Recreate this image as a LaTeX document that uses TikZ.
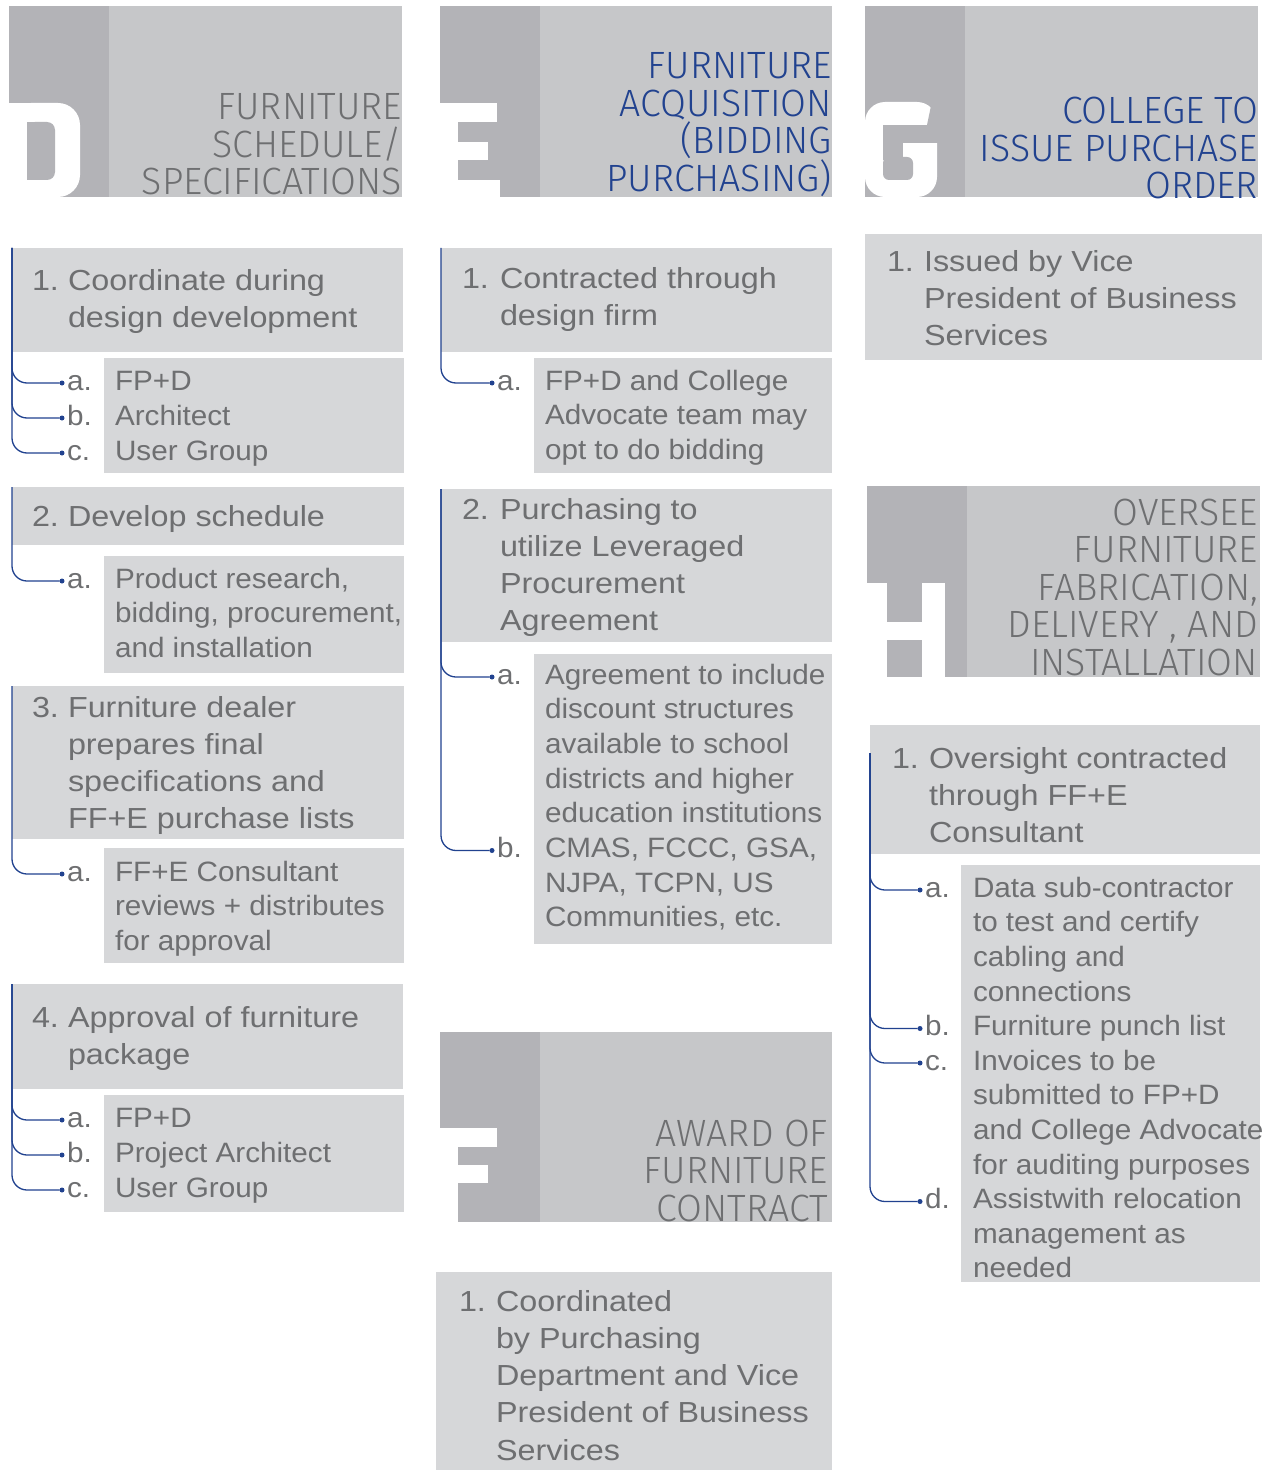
\documentclass[tikz,border=0pt]{standalone}
\usepackage{fontspec}
\setmainfont{Liberation Sans}
\newfontfamily\hdrfont{Fira Sans Light}[FakeStretch=0.985]
\newfontfamily\bodyfont{Liberation Sans}[FakeStretch=1.115]
\newfontfamily\itemfont{Liberation Sans}[FakeStretch=1.06]
\newcommand\mainsz{\bodyfont\fontsize{29}{37.3}\selectfont}
\newcommand\itemsz{\itemfont\fontsize{28}{34.7}\selectfont}
\newcommand\hdrsz{\hdrfont\fontsize{38}{37.5}\selectfont}
\newcommand\firststrut{\rule{0pt}{24pt}}
\newcommand\hdrstrut{\rule{0pt}{32pt}}

\definecolor{hdrlight}{HTML}{C6C7C9}
\definecolor{hdrdark}{HTML}{B3B3B7}
\definecolor{boxgrey}{HTML}{D6D7D9}
\definecolor{inkgrey}{HTML}{6E6F71}
\definecolor{navy}{HTML}{21428F}

\tikzset{
  hdrbox/.style={fill=hdrlight, draw=none, inner sep=0, outer sep=0, anchor=north west},
  card/.style={fill=boxgrey, draw=none, inner sep=0, outer sep=0, anchor=north west},
  numtxt/.style={anchor=north west, inner sep=0, outer sep=0, text=inkgrey, font=\mainsz, align=left},
  itemtxt/.style={anchor=north west, inner sep=0, outer sep=0, text=inkgrey, font=\itemsz, align=left},
  title/.style={anchor=north east, inner sep=0, outer sep=0, font=\hdrsz, align=right},
  link/.style={draw=navy, line width=1.3pt, rounded corners=15pt},
  knot/.style={circle, fill=navy, inner sep=0, outer sep=0, minimum size=5pt},
}

% header panel: name, x, y, width, height
\newcommand\header[5]{%
  \node[hdrbox, minimum width=#4pt, minimum height=#5pt] (#1) at (#2,#3) {};
  \fill[hdrdark] (#1.north west) rectangle ++(100,#5);
}
% numbered step: name, number x, text x, first baseline, number, text
\newcommand\step[6]{%
  \node[numtxt] (#1-n) at (#2,#4-24) {\firststrut #5};
  \node[numtxt] (#1-t) at (#3,#4-24) {\firststrut #6};
}
% sub-item hanging off a spine: name, spine start, label x, text x, baseline, label, text
\newcommand\branch[7]{%
  \node[itemtxt] (#1-l) at (#3,#5-24) {\firststrut #6};
  \node[itemtxt] (#1-t) at (#4,#5-24) {\firststrut #7};
  \node[knot] (#1-k) at (#3-5,#5-7) {};
  \draw[link] (#2) |- (#1-k);
}

\begin{document}
\begin{tikzpicture}[x=1pt,y=-1pt]
\fill[white] (0,0) rectangle (1270,1471);
\useasboundingbox (0,0) rectangle (1270,1471);

% ---------------- headers ----------------
\header{hD}{9}{6}{393}{191}
\header{hE}{440}{6}{392}{191}
\header{hG}{865}{6}{393}{191}
\header{hH}{867}{486}{393}{191}
\header{hF}{440}{1032}{392}{190}

% letter D
\begin{scope}[shift={(hD.south west)}, yscale=-1]
  \fill[white] (0,0) rectangle (40,94);
  \fill[white, rounded corners=22pt] (0,0) rectangle (71,94);
  \fill[hdrdark, rounded corners=8pt] (18,17) rectangle (46,75);
  \fill[hdrdark] (18,17) rectangle (30,75);
\end{scope}
% letter E
\begin{scope}[shift={(hE.south west)}, yscale=-1]
  \fill[white] (0,0) rectangle (18,94);
  \fill[white] (0,75) rectangle (57,94);
  \fill[white] (0,37) rectangle (48,55);
  \fill[white] (0,0) rectangle (60,17);
\end{scope}
% letter G
\begin{scope}[shift={(hG.south west)}, yscale=-1]
  \fill[white, rounded corners=20pt] (0,0) rectangle (72,95);
  \fill[hdrdark] (18,54) rectangle (73,72);
  \fill[hdrdark] (18,37) rectangle (38,54);
  \fill[hdrdark, rounded corners=6pt] (18,17) rectangle (48,40);
  \fill[hdrdark] (62,72) -- (73,72) -- (73,96) -- (67,96) -- cycle;
\end{scope}
% letter H
\begin{scope}[shift={(hH.south west)}, yscale=-1]
  \fill[white] (0,0) rectangle (20,94);
  \fill[white] (55,0) rectangle (78,94);
  \fill[white] (0,37) rectangle (78,55);
\end{scope}
% letter F
\begin{scope}[shift={(hF.south west)}, yscale=-1]
  \fill[white] (0,0) rectangle (18,94);
  \fill[white] (0,75) rectangle (57,94);
  \fill[white] (0,39) rectangle (48,57);
\end{scope}

\node[title, text=inkgrey] (hD-t) at (402,120-32) {\hdrstrut FURNITURE\\SCHEDULE/\\SPECIFICATIONS};
\node[title, text=navy] (hE-t) at (832,79-32) {\hdrstrut FURNITURE\\ACQUISITION\\(BIDDING\\PURCHASING)};
\node[title, text=navy] (hG-t) at (1258,124-32) {\hdrstrut COLLEGE TO\\ISSUE PURCHASE\\ORDER};
\node[title, text=inkgrey] (hH-t) at (1258,525-32) {\hdrstrut OVERSEE\\FURNITURE\\FABRICATION,\\DELIVERY , AND\\INSTALLATION};
\node[title, text=inkgrey] (hF-t) at (828,1146-32) {\hdrstrut AWARD OF\\FURNITURE\\CONTRACT};

% ---------------- cards ----------------
\node[card, minimum width=391pt, minimum height=104pt] (d1) at (12,248) {};
\node[card, minimum width=300pt, minimum height=115pt] (d1s) at (104,358) {};
\node[card, minimum width=392pt, minimum height=58pt] (d2) at (12,487) {};
\node[card, minimum width=300pt, minimum height=117pt] (d2s) at (104,556) {};
\node[card, minimum width=392pt, minimum height=153pt] (d3) at (12,686) {};
\node[card, minimum width=300pt, minimum height=115pt] (d3s) at (104,848) {};
\node[card, minimum width=391pt, minimum height=105pt] (d4) at (12,984) {};
\node[card, minimum width=300pt, minimum height=117pt] (d4s) at (104,1095) {};

\node[card, minimum width=391pt, minimum height=104pt] (e1) at (441,248) {};
\node[card, minimum width=298pt, minimum height=115pt] (e1s) at (534,358) {};
\node[card, minimum width=391pt, minimum height=153pt] (e2) at (441,489) {};
\node[card, minimum width=298pt, minimum height=290pt] (e2s) at (534,654) {};
\node[card, minimum width=396pt, minimum height=198pt] (f1) at (436,1272) {};

\node[card, minimum width=397pt, minimum height=126pt] (g1) at (865,234) {};
\node[card, minimum width=390pt, minimum height=129pt] (h1) at (870,725) {};
\node[card, minimum width=299pt, minimum height=417pt] (h1s) at (961,865) {};
\coordinate (h1-spine) at (870,753);

% ---------------- column D ----------------
\step{d1}{32}{68}{290}{1.}{Coordinate during\\design development}
\branch{d1a}{d1.north west}{67}{115}{390}{a.}{FP+D}
\branch{d1b}{d1.north west}{67}{115}{425}{b.}{Architect}
\branch{d1c}{d1.north west}{67}{115}{460}{c.}{User Group}

\step{d2}{32}{68}{526}{2.}{Develop schedule}
\branch{d2a}{d2.north west}{67}{115}{588}{a.}{Product research,\\bidding, procurement,\\and installation}

\step{d3}{32}{68}{717}{3.}{Furniture dealer\\prepares final\\specifications and\\FF+E purchase lists}
\branch{d3a}{d3.north west}{67}{115}{881}{a.}{FF+E Consultant\\reviews + distributes\\for approval}

\step{d4}{32}{68}{1027}{4.}{Approval of furniture\\package}
\branch{d4a}{d4.north west}{67}{115}{1127}{a.}{FP+D}
\branch{d4b}{d4.north west}{67}{115}{1162}{b.}{Project Architect}
\branch{d4c}{d4.north west}{67}{115}{1197}{c.}{User Group}

% ---------------- column E / F ----------------
\step{e1}{462}{500}{288}{1.}{Contracted through\\design firm}
\branch{e1a}{e1.north west}{497}{545}{390}{a.}{FP+D and College\\Advocate team may\\opt to do bidding}

\step{e2}{462}{500}{519}{2.}{Purchasing to\\utilize Leveraged\\Procurement\\Agreement}
\branch{e2a}{e2.north west}{497}{545}{684}{a.}{Agreement to include\\discount structures\\available to school\\districts and higher\\education institutions}
\branch{e2b}{e2.north west}{497}{545}{857.5}{b.}{CMAS, FCCC, GSA,\\NJPA, TCPN, US\\Communities, etc.}

\step{f1}{459}{496}{1311}{1.}{Coordinated\\by Purchasing\\Department and Vice\\President of Business\\Services}

% ---------------- column G / H ----------------
\step{g1}{887}{924}{271}{1.}{Issued by Vice\\President of Business\\Services}

\step{h1}{892}{929}{768}{1.}{Oversight contracted\\through FF+E\\Consultant}
\branch{h1a}{h1-spine}{925}{973}{897}{a.}{Data sub-contractor\\to test and certify\\cabling and\\connections}
\branch{h1b}{h1-spine}{925}{973}{1035.5}{b.}{Furniture punch list}
\branch{h1c}{h1-spine}{925}{973}{1070}{c.}{Invoices to be\\submitted to FP+D\\and College Advocate\\for auditing purposes}
\branch{h1d}{h1-spine}{925}{973}{1208.5}{d.}{Assistwith relocation\\management as\\needed}

\end{tikzpicture}
\end{document}
